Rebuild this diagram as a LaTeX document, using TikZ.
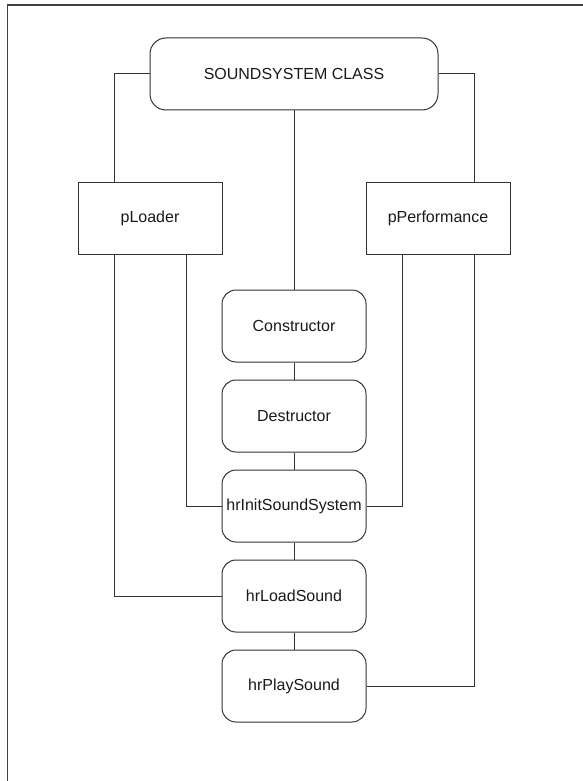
\documentclass[tikz,border=0pt]{standalone}
\usepackage{fontspec}
\setmainfont{Liberation Sans}
\begin{document}
\begin{tikzpicture}[x=1pt,y=-1pt,
  box/.style={draw=black!80, line width=1pt, minimum width=144pt, minimum height=72pt,
    inner sep=0pt, text=black!90, font=\fontsize{16}{19}\selectfont},
  rbox/.style={box, rounded corners=14pt},
  wire/.style={draw=black!80, line width=1pt}]
\useasboundingbox (0,0) rectangle (583,781);
\draw[line width=1.5pt, black!75] (7.5,781) -- (7.5,5) -- (583,5);
\node[rbox, minimum width=288pt, rounded corners=16pt] (ss) at (294,74) {SOUNDSYSTEM CLASS};
\node[box] (pl) at (150,218) {pLoader};
\node[box] (pp) at (438,218) {pPerformance};
\node[rbox] (con) at (294,326) {Constructor};
\node[rbox] (des) at (294,416) {Destructor};
\node[rbox] (init) at (294,506) {hrInitSoundSystem};
\node[rbox] (load) at (294,596) {hrLoadSound};
\node[rbox] (play) at (294,686) {hrPlaySound};
\draw[wire] (ss.west) -| ([xshift=-36pt]pl.north);
\draw[wire] (ss.east) -| ([xshift=36pt]pp.north);
\draw[wire] (ss.south) -- (con.north);
\draw[wire] (con.south) -- (des.north);
\draw[wire] (des.south) -- (init.north);
\draw[wire] (init.south) -- (load.north);
\draw[wire] (load.south) -- (play.north);
\draw[wire] ([xshift=-36pt]pl.south) |- (load.west);
\draw[wire] ([xshift=36pt]pl.south) |- (init.west);
\draw[wire] ([xshift=-36pt]pp.south) |- (init.east);
\draw[wire] ([xshift=36pt]pp.south) |- (play.east);
\end{tikzpicture}
\end{document}
